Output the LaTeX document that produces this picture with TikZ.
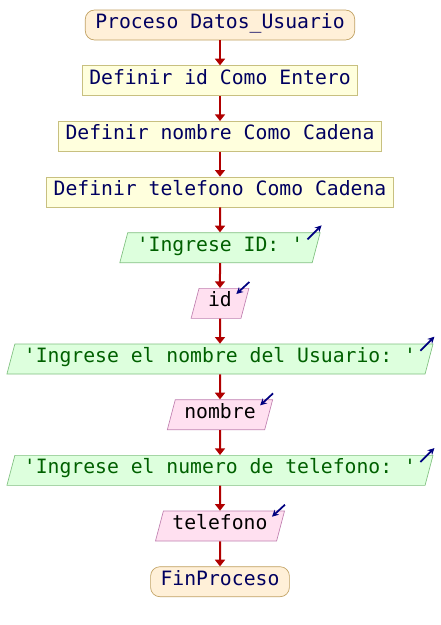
\documentclass[tikz,border=0pt]{standalone}
\usepackage{fontspec}
\setmonofont{DejaVu Sans Mono}
\usepackage{xcolor}
\usetikzlibrary{positioning,shapes.geometric,arrows.meta}
\definecolor{flujo}{HTML}{B00000}
\definecolor{icono}{HTML}{000080}
\definecolor{procfill}{HTML}{FFFFDD}
\definecolor{procline}{HTML}{C8C080}
\definecolor{proctext}{HTML}{000060}
\definecolor{termfill}{HTML}{FFF0D8}
\definecolor{termline}{HTML}{C0A060}
\definecolor{salfill}{HTML}{DDFFDD}
\definecolor{salline}{HTML}{80C080}
\definecolor{saltext}{HTML}{006000}
\definecolor{entfill}{HTML}{FFE0F0}
\definecolor{entline}{HTML}{C080B0}

\begin{document}
\begin{tikzpicture}[x=0.75pt,y=-0.75pt,
	node distance=18.75pt,
	every node/.style={font=\ttfamily\fontsize{14.8}{17}\selectfont, text height=0.75em, text depth=0.22em, minimum height=22.5pt, line width=0.5pt},
	terminal/.style={draw=termline, fill=termfill, text=proctext, rounded corners=7pt, inner xsep=7.5pt},
	definir/.style={draw=procline, fill=procfill, text=proctext, inner xsep=5.25pt},
	paralelo/.style={trapezium, trapezium left angle=70, trapezium right angle=110, trapezium stretches=true, inner xsep=6.8pt},
	salida/.style={paralelo, draw=salline, fill=salfill, text=saltext},
	entrada/.style={paralelo, draw=entline, fill=entfill, text=black},
	flecha/.style={draw=flujo, line width=1.5pt, -{Triangle[length=5pt,width=7.5pt]}},
	icon/.style={draw=icono, line width=1.3pt, -{Stealth[length=5pt,width=5pt]}}]
	\useasboundingbox (0,0) rectangle (440,625);
	\node[terminal] (inicio) at (220,25) {Proceso Datos\_Usuario};
	\node[definir, below=of inicio] (defid) {Definir id Como Entero};
	\node[definir, below=of defid] (defnom) {Definir nombre Como Cadena};
	\node[definir, below=of defnom] (deftel) {Definir telefono Como Cadena};
	\node[salida, below=of deftel] (salid) {'Ingrese ID: '};
	\node[entrada, below=of salid] (leeid) {id};
	\node[salida, below=of leeid] (salnom) {'Ingrese el nombre del Usuario: '};
	\node[entrada, below=of salnom] (leenom) {nombre};
	\node[salida, below=of leenom] (saltel) {'Ingrese el numero de telefono: '};
	\node[entrada, below=of saltel] (leetel) {telefono};
	\node[terminal, below=of leetel] (fin) {FinProceso};
	\foreach \a/\b in {inicio/defid, defid/defnom, defnom/deftel, deftel/salid, salid/leeid, leeid/salnom, salnom/leenom, leenom/saltel, saltel/leetel, leetel/fin}
		\draw[flecha] (\a) -- (\b);
	\foreach \s in {salid, salnom, saltel}
		\draw[icon] ([shift={(-13,7)}]\s.top right corner) -- ++(14,-14);
	\foreach \e in {leeid, leenom, leetel}
		\draw[icon] ([shift={(0,-6)}]\e.top right corner) -- ++(-13,12);
\end{tikzpicture}
\end{document}
